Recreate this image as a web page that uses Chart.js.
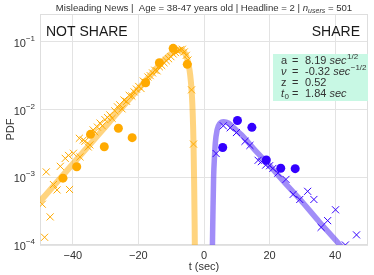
<!DOCTYPE html>
<html lang="en">
<head>
    <meta charset="UTF-8">
    <title>Misleading News PDF</title>
    <script src="https://cdn.jsdelivr.net/npm/chart.js"></script>
    <style>
        body {
            margin: 0;
            background: #ffffff;
        }
        .chart-box {
            width: 374px;
            height: 275px;
        }
    </style>
</head>
<body>
    <div class="chart-box">
        <canvas id="pdfChart"></canvas>
    </div>

    <script>
        // ticks
        const xTicks = [-40, -20, 0, 20, 40];
        const xTickLabels = ['\u221240', '\u221220', '0', '20', '40'];
        const yTicks = [1e-4, 1e-3, 1e-2, 1e-1];
        const yTickExps = ['\u22124', '\u22123', '\u22122', '\u22121'];

        // NOT SHARE side (negative times)
        const notShareCrossT = [-49.3, -48.6, -46.9, -48.1, -45.9, -44.8, -41.0, -43.8, -42.3, -41.3, -39.8, -37.8, -38.0, -36.8, -35.3, -34.8, -36.3, -33.8,
            -33.3, -32.5, -31.7, -31.0, -30.2, -29.4, -28.7, -28.0, -27.2, -26.4, -25.7, -25.0, -24.4, -23.6, -22.8, -22.0, -21.3, -20.6,
            -19.9, -19.2, -18.5, -17.8, -17.1, -16.4, -15.7, -15.0, -14.3, -13.6, -12.9, -12.2, -11.5, -10.8, -10.1, -9.4, -8.7, -8.0,
            -7.3, -6.6, -6.0, -5.4, -4.9, -3.8, -3.2];
        const notShareCrossV = [4.0e-4, 1.3e-4, 2.6e-4, 1.2e-3, 7.8e-4, 6.5e-4, 6.6e-4, 1.45e-3, 1.9e-3, 2.1e-3, 2.26e-3, 2.0e-3, 3.76e-3, 3.55e-3, 2.8e-3, 3.0e-3, 3.4e-3, 5.0e-3,
            4.68e-3, 5.50e-3, 6.31e-3, 5.75e-3, 7.08e-3, 7.59e-3, 8.32e-3, 7.41e-3, 9.55e-3, 0.01096, 0.01175, 0.01023, 0.0138, 0.0132, 0.0162, 0.0158, 0.0182, 0.0200,
            0.0219, 0.0204, 0.0263, 0.0251, 0.0302, 0.0316, 0.0347, 0.0380, 0.0372, 0.0427, 0.0447, 0.0490, 0.0525, 0.0562, 0.0603, 0.0661, 0.0692, 0.0724,
            0.0759, 0.0776, 0.0708, 0.0631, 0.0537, 0.0195, 0.00309];
        const notShareDotT = [-43.0, -38.8, -34.6, -30.4, -26.1, -21.9, -17.8, -13.6, -9.4, -5.1];
        const notShareDotV = [9.7e-4, 1.43e-3, 4.3e-3, 2.82e-3, 5.28e-3, 3.84e-3, 0.0248, 0.049, 0.080, 0.0464];
        const notShareFitT = [-50, -45, -40, -35, -30, -25, -20, -15, -12, -10, -8.6, -7.6, -6.5, -5.6, -4.9, -4.4, -4.0, -3.7, -3.45, -3.2, -3.0, -2.85, -2.75];
        const notShareFitV = [4.4e-4, 8.3e-4, 1.57e-3, 2.97e-3, 5.6e-3, 0.0107, 0.0202, 0.038, 0.055, 0.067, 0.074, 0.076, 0.074, 0.065, 0.051, 0.038, 0.026, 0.0166, 0.0089, 0.0032, 7.9e-4, 2.0e-4, 5.0e-5];

        // SHARE side (positive times)
        const shareCrossT = [3.7, 5.9, 8.0, 9.9, 12.5, 14.0, 16.5, 17.5, 18.8, 20.0, 21.0, 22.5, 25.0, 27.2, 29.2, 31.6, 33.5, 35.7, 37.7, 40.1, 43.1, 46.5];
        const shareCrossV = [2.24e-3, 5.75e-3, 5.37e-3, 4.57e-3, 3.39e-3, 2.95e-3, 1.78e-3, 1.70e-3, 1.51e-3, 1.48e-3, 1.35e-3, 1.15e-3, 9.3e-4, 5.6e-4, 4.7e-4, 6.2e-4, 4.7e-4, 1.82e-4, 2.29e-4, 3.31e-4, 1.0e-4, 1.41e-4];
        const shareDotT = [5.7, 10.2, 14.6, 19.0, 23.4, 27.8];
        const shareDotV = [2.75e-3, 6.89e-3, 5.46e-3, 1.80e-3, 1.36e-3, 1.34e-3];
        const shareFitT = [2.5, 2.7, 2.93, 3.2, 3.44, 4.0, 4.8, 6.0, 7.5, 9.0, 11.5, 15, 20, 25, 30, 35, 40, 42, 45];
        const shareFitV = [6.3e-5, 2.5e-4, 1.0e-3, 2.0e-3, 3.16e-3, 5.0e-3, 6.2e-3, 6.6e-3, 6.3e-3, 5.4e-3, 4.2e-3, 2.7e-3, 1.48e-3, 7.9e-4, 4.3e-4, 2.24e-4, 1.2e-4, 9.3e-5, 6.3e-5];

        // fit parameters shown in the box
        const paramLabels = ['a', '\u03bd', 'z', 't'];
        const paramValues = ['8.19', '-0.32', '0.52', '1.84'];

        const orange = '#ffaa00';
        const blue = '#3300ff';
        const font = '"Liberation Sans", Arial, sans-serif';

        function pts(xs, ys) {
            return xs.map((x, i) => ({ x: x, y: ys[i] }));
        }

        const framePlugin = {
            id: 'frame',
            beforeDatasetsDraw(chart) {
                const { ctx, chartArea: a } = chart;
                ctx.save();
                ctx.strokeStyle = '#dedede';
                ctx.lineWidth = 1;
                ctx.strokeRect(a.left + 0.5, a.top + 0.5, a.right - a.left - 1, a.bottom - a.top - 1);
                ctx.restore();
            }
        };

        const textPlugin = {
            id: 'texts',
            afterDraw(chart) {
                const { ctx, chartArea: a } = chart;
                const yScale = chart.scales.y;
                ctx.save();
                ctx.fillStyle = '#333';
                ctx.textBaseline = 'alphabetic';

                // y tick labels with superscripts
                yTicks.forEach((v, i) => {
                    const py = yScale.getPixelForValue(v);
                    ctx.font = '8px ' + font;
                    const sw = ctx.measureText(yTickExps[i]).width;
                    ctx.font = '11px ' + font;
                    const bw = ctx.measureText('10').width;
                    const right = a.left - 5;
                    ctx.textAlign = 'left';
                    ctx.fillText('10', right - sw - bw, py + 5);
                    ctx.font = '8px ' + font;
                    ctx.fillText(yTickExps[i], right - sw, py - 1);
                });

                // title
                const parts = [
                    ['Misleading News |  Age = 38-47 years old | Headline = 2 | ', 'normal', 9.6, 0],
                    ['n', 'italic', 9.6, 0],
                    ['users', 'italic', 7, 2],
                    [' = 501', 'normal', 9.6, 0]
                ];
                let total = 0;
                parts.forEach(p => {
                    ctx.font = p[1] + ' ' + p[2] + 'px ' + font;
                    total += ctx.measureText(p[0]).width;
                });
                let tx = (a.left + a.right) / 2 - total / 2;
                parts.forEach(p => {
                    ctx.font = p[1] + ' ' + p[2] + 'px ' + font;
                    ctx.fillText(p[0], tx, 11 + p[3]);
                    tx += ctx.measureText(p[0]).width;
                });

                // side labels
                ctx.fillStyle = '#1a1a1a';
                ctx.font = '14px ' + font;
                ctx.textAlign = 'left';
                ctx.fillText('NOT SHARE', a.left + 6, 36);
                ctx.textAlign = 'right';
                ctx.fillText('SHARE', a.right - 8, 36);

                // parameter box
                ctx.fillStyle = '#c8f8e4';
                ctx.fillRect(273, 54, 95, 47);
                ctx.fillStyle = '#333';
                ctx.textAlign = 'left';
                const rows = [64, 75, 86, 97];
                rows.forEach((by, i) => {
                    let x = 281;
                    ctx.font = (i === 1 || i === 3 ? 'italic ' : '') + '11px ' + font;
                    ctx.fillText(paramLabels[i], x, by);
                    if (i === 3) {
                        ctx.font = '8px ' + font;
                        ctx.fillText('0', x + 3.5, by + 2);
                    }
                    ctx.font = '11px ' + font;
                    ctx.fillText('=', 292, by);
                    x = 305;
                    const val = paramValues[i] + (i === 2 ? '' : ' ');
                    ctx.fillText(val, x, by);
                    x += ctx.measureText(val).width;
                    if (i !== 2) {
                        ctx.font = 'italic 11px ' + font;
                        ctx.fillText('sec', x, by);
                        x += ctx.measureText('sec').width;
                        if (i < 2) {
                            ctx.font = '8px ' + font;
                            ctx.fillText(i === 0 ? '1/2' : '\u22121/2', x + 0.5, by - 5);
                        }
                    }
                });
                ctx.restore();
            }
        };

        const ctx = document.getElementById('pdfChart').getContext('2d');
        new Chart(ctx, {
            type: 'scatter',
            data: {
                datasets: [
                    {
                        label: 'NOT SHARE fit',
                        data: pts(notShareFitT, notShareFitV),
                        showLine: true,
                        borderColor: 'rgba(255,170,0,0.5)',
                        borderWidth: 6,
                        pointRadius: 0,
                        cubicInterpolationMode: 'monotone',
                        clip: 0,
                        order: 3
                    },
                    {
                        label: 'SHARE fit',
                        data: pts(shareFitT, shareFitV),
                        showLine: true,
                        borderColor: 'rgba(110,80,245,0.65)',
                        borderWidth: 5.5,
                        pointRadius: 0,
                        cubicInterpolationMode: 'monotone',
                        clip: 0,
                        order: 3
                    },
                    {
                        label: 'NOT SHARE x',
                        data: pts(notShareCrossT, notShareCrossV),
                        pointStyle: 'crossRot',
                        pointRadius: 5,
                        borderColor: orange,
                        backgroundColor: orange,
                        borderWidth: 1,
                        clip: 0,
                        order: 2
                    },
                    {
                        label: 'SHARE x',
                        data: pts(shareCrossT, shareCrossV),
                        pointStyle: 'crossRot',
                        pointRadius: 5,
                        borderColor: blue,
                        backgroundColor: blue,
                        borderWidth: 1,
                        clip: 0,
                        order: 2
                    },
                    {
                        label: 'NOT SHARE o',
                        data: pts(notShareDotT, notShareDotV),
                        pointRadius: 4.5,
                        backgroundColor: orange,
                        borderColor: orange,
                        borderWidth: 0,
                        clip: 0,
                        order: 1
                    },
                    {
                        label: 'SHARE o',
                        data: pts(shareDotT, shareDotV),
                        pointRadius: 4.5,
                        backgroundColor: blue,
                        borderColor: blue,
                        borderWidth: 0,
                        clip: 0,
                        order: 1
                    }
                ]
            },
            options: {
                responsive: true,
                maintainAspectRatio: false,
                animation: false,
                layout: { padding: { top: 14, right: 3, left: 0, bottom: 0 } },
                plugins: {
                    legend: { display: false },
                    tooltip: { enabled: false }
                },
                scales: {
                    x: {
                        type: 'linear',
                        min: -50,
                        max: 50,
                        afterBuildTicks: axis => { axis.ticks = xTicks.map(v => ({ value: v })); },
                        afterFit: axis => { axis.height = 30; },
                        grid: { color: '#e3e3e3', drawTicks: false },
                        border: { display: false },
                        ticks: {
                            color: '#333',
                            font: { family: font, size: 11 },
                            padding: 4,
                            maxRotation: 0,
                            callback: v => xTickLabels[xTicks.indexOf(v)]
                        },
                        title: {
                            display: true,
                            text: 't (sec)',
                            color: '#333',
                            font: { family: font, size: 11 },
                            padding: { top: 0, bottom: 1 }
                        }
                    },
                    y: {
                        type: 'logarithmic',
                        min: 1e-4,
                        max: 0.257,
                        afterBuildTicks: axis => { axis.ticks = yTicks.map(v => ({ value: v })); },
                        afterFit: axis => { axis.width = 40; },
                        grid: { color: '#e3e3e3', drawTicks: false },
                        border: { display: false },
                        ticks: { display: false },
                        title: {
                            display: true,
                            text: 'PDF',
                            color: '#333',
                            font: { family: font, size: 11 },
                            padding: { top: 4, bottom: 0 }
                        }
                    }
                }
            },
            plugins: [framePlugin, textPlugin]
        });
    </script>
</body>
</html>
